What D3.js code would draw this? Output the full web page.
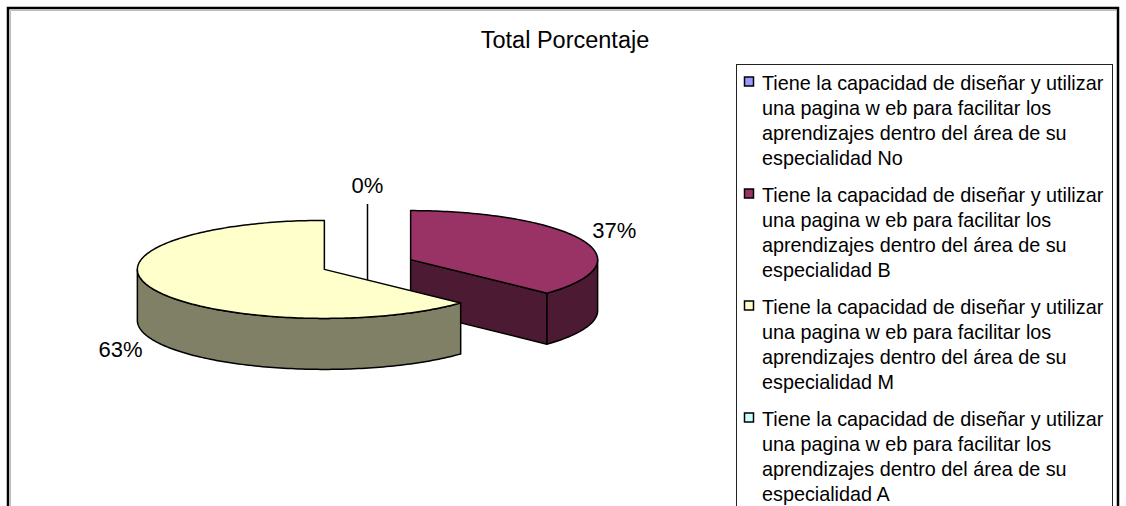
<!DOCTYPE html>
<html>
<head>
<meta charset="utf-8">
<script src="https://cdn.jsdelivr.net/npm/d3@7"></script>
<style>
  body { margin: 0; background: #fff; }
  svg { display: block; font-family: "Liberation Sans", Arial, sans-serif; }
</style>
</head>
<body>
<svg width="1126" height="506"></svg>
<script>
'use strict';

// chart data
var title = 'Total Porcentaje';
var categories = [
  'Tiene la capacidad de diseñar y utilizar una pagina w eb para facilitar los aprendizajes dentro del área de su especialidad No',
  'Tiene la capacidad de diseñar y utilizar una pagina w eb para facilitar los aprendizajes dentro del área de su especialidad B',
  'Tiene la capacidad de diseñar y utilizar una pagina w eb para facilitar los aprendizajes dentro del área de su especialidad M',
  'Tiene la capacidad de diseñar y utilizar una pagina w eb para facilitar los aprendizajes dentro del área de su especialidad A'
];
var values = [0, 37, 63, 0];
var topColors = ['#9999ff', '#993366', '#ffffcc', '#ccffff'];
var sideColors = ['#4d4d80', '#4d1a33', '#808066', '#668080'];

var svg = d3.select('svg');
var fmt = d3.format('.0%');
var total = d3.sum(values);

// outer frame
svg.append('rect')
  .attr('x', 8).attr('y', 8).attr('width', 1110).attr('height', 520)
  .attr('fill', 'none').attr('stroke', '#000').attr('stroke-width', 2.5);
svg.append('path')
  .attr('d', 'M10.5,520V10.5H1116')
  .attr('fill', 'none').attr('stroke', '#bbb').attr('stroke-width', 1);

svg.append('text')
  .attr('x', 565).attr('y', 48)
  .attr('text-anchor', 'middle')
  .style('font-size', '23.5px')
  .text(title);

/* 3D pie geometry */
var cx = 367.5, cy = 264.5, rx = 187, ry = 49, depth = 51, explode = 47;

var pie = d3.pie().sort(null).startAngle(0).endAngle(2 * Math.PI).value(function(d) { return d; });
var arcs = pie(values);
arcs.forEach(function(d, i) {
  d.index = i;
  d.mid = (d.startAngle + d.endAngle) / 2;
  var e = d.value > 0 ? explode : explode * 0.26;
  d.ax = cx + e * Math.sin(d.mid);
  d.ay = cy - e * Math.cos(d.mid) * ry / rx;
});

function rim(d, a, dy) {
  return [d.ax + rx * Math.sin(a), d.ay - ry * Math.cos(a) + (dy || 0)];
}
function arcPoints(d, a0, a1, dy) {
  var n = Math.max(2, Math.ceil(Math.abs(a1 - a0) / 0.02));
  return d3.range(n + 1).map(function(k) { return rim(d, a0 + (a1 - a0) * k / n, dy); });
}
var line = d3.line();

var pieGroup = svg.append('g');

// leader line for the empty slices (sits behind the pie)
arcs.filter(function(d) { return d.value === 0 && d.index === 0; }).forEach(function(d) {
  pieGroup.append('line')
    .attr('x1', d.ax).attr('x2', d.ax)
    .attr('y1', 204).attr('y2', cy + 20)
    .attr('stroke', '#000').attr('stroke-width', 1.5);
});

var slices = arcs.filter(function(d) { return d.value > 0; })
  .sort(function(a, b) { return -Math.cos(a.mid) - (-Math.cos(b.mid)); });

slices.forEach(function(d) {
  var g = pieGroup.append('g');
  var side = sideColors[d.index];
  // cut faces
  [[d.startAngle, d.startAngle - Math.PI / 2], [d.endAngle, d.endAngle + Math.PI / 2]].forEach(function(f) {
    if (Math.cos(f[1]) < -0.01) {
      var p = rim(d, f[0]);
      g.append('path')
        .attr('d', line([[d.ax, d.ay], p, [p[0], p[1] + depth], [d.ax, d.ay + depth]]) + 'Z')
        .attr('fill', side).attr('stroke', '#000').attr('stroke-width', 1.5)
        .attr('stroke-linejoin', 'round');
    }
  });
  // outer wall, front half only
  var a0 = Math.max(d.startAngle, Math.PI / 2), a1 = Math.min(d.endAngle, 3 * Math.PI / 2);
  if (a1 > a0) {
    var pts = arcPoints(d, a0, a1, 0).concat(arcPoints(d, a1, a0, depth));
    g.append('path')
      .attr('d', line(pts) + 'Z')
      .attr('fill', side).attr('stroke', '#000').attr('stroke-width', 1.5)
      .attr('stroke-linejoin', 'round');
  }
  // top face
  var top = [[d.ax, d.ay]].concat(arcPoints(d, d.startAngle, d.endAngle, 0));
  g.append('path')
    .attr('d', line(top) + 'Z')
    .attr('fill', topColors[d.index]).attr('stroke', '#000').attr('stroke-width', 1.5)
    .attr('stroke-linejoin', 'round');
});

// percentage labels (one per distinct position)
var seen = {};
arcs.forEach(function(d) {
  var key = d.value === 0 ? 'zero' : d.mid.toFixed(3);
  if (seen[key]) return;
  seen[key] = true;
  var lx = d.ax + (rx + 35) * Math.sin(d.mid);
  var ly = d.ay - (ry + 24) * Math.cos(d.mid) + (Math.cos(d.mid) < 0 ? depth : 0);
  if (d.value === 0) { lx = d.ax; ly = 185; }
  svg.append('text')
    .attr('x', lx).attr('y', ly)
    .attr('text-anchor', 'middle')
    .attr('dy', '0.35em')
    .style('font-size', '22px')
    .text(fmt(d.value / total));
});

/* legend */
var legend = svg.append('g').attr('transform', 'translate(736,64)');
legend.append('rect')
  .attr('x', 0.5).attr('y', 0.5).attr('width', 376).attr('height', 470)
  .attr('fill', '#fff').attr('stroke', '#222').attr('stroke-width', 1);

var item = legend.selectAll('.item')
  .data(categories)
  .enter()
  .append('g')
  .attr('class', 'item')
  .attr('transform', function(d, i) { return 'translate(0,' + (i * 112) + ')'; });

item.append('rect')
  .attr('x', 8.5).attr('y', 13).attr('width', 9).attr('height', 9)
  .attr('fill', function(d, i) { return topColors[i]; })
  .attr('stroke', '#000').attr('stroke-width', 1.5);

item.append('text')
  .attr('x', 26).attr('y', 26)
  .style('font-size', '19.8px')
  .each(wrap);

function wrap(d) {
  var text = d3.select(this);
  var words = d.split(' ');
  var lineWords = [];
  var tspan = text.append('tspan').attr('x', 26).attr('dy', 0);
  words.forEach(function(w) {
    lineWords.push(w);
    tspan.text(lineWords.join(' '));
    if (tspan.node().getComputedTextLength() > 350 && lineWords.length > 1) {
      lineWords.pop();
      tspan.text(lineWords.join(' '));
      lineWords = [w];
      tspan = text.append('tspan').attr('x', 26).attr('dy', 25).text(w);
    }
  });
}
</script>
</body>
</html>
